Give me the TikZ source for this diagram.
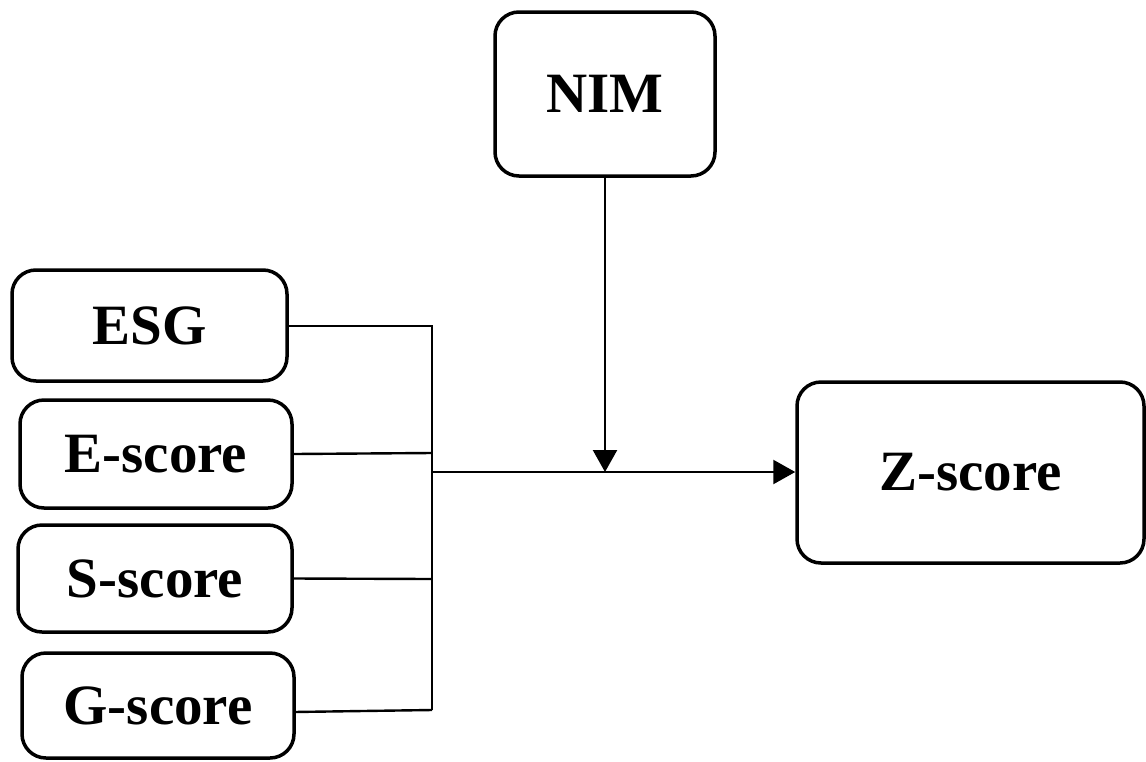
\documentclass[tikz,border=0pt]{standalone}
\usepackage{fontspec}
\setmainfont{Liberation Serif}
\usetikzlibrary{arrows.meta}
\begin{document}
\begin{tikzpicture}[x=1pt,y=-1pt,
  box/.style={draw,line width=3.5pt,rounded corners=24pt,inner sep=0pt,
    font=\fontsize{57}{60}\bfseries\selectfont},
  conn/.style={line width=2.4pt},
  arr/.style={conn,-{Triangle[length=22pt,width=24pt]}}]
\useasboundingbox (0,0) rectangle (1146,761);
\node[box,minimum width=220pt,minimum height=164pt] (nim) at (605,94) {NIM};
\node[box,minimum width=275pt,minimum height=111pt] (esg) at (149.5,325.5) {ESG};
\node[box,minimum width=272pt,minimum height=108pt] (e) at (156,454) {E-score};
\node[box,minimum width=274pt,minimum height=107pt] (s) at (155,578.5) {S-score};
\node[box,minimum width=272pt,minimum height=105pt] (g) at (158,705.5) {G-score};
\node[box,minimum width=347pt,minimum height=181pt] (z) at (970.5,472.5) {Z-score};
\coordinate (t) at (432,326);
\coordinate (b) at (432,710);
\coordinate (j) at (432,472);
\coordinate (m) at (605,472);
\coordinate (ge) at (294,712);
\draw[conn] (esg.east |- t) -- (t) -- (b);
\draw[conn] (e.east) -- (432,453);
\draw[conn] (s.east) -- (432,579);
\draw[conn] (ge) -- (b);
\draw[arr] (j) -- (z.west |- j);
\draw[arr] (nim.south) -- (m);
\end{tikzpicture}
\end{document}
